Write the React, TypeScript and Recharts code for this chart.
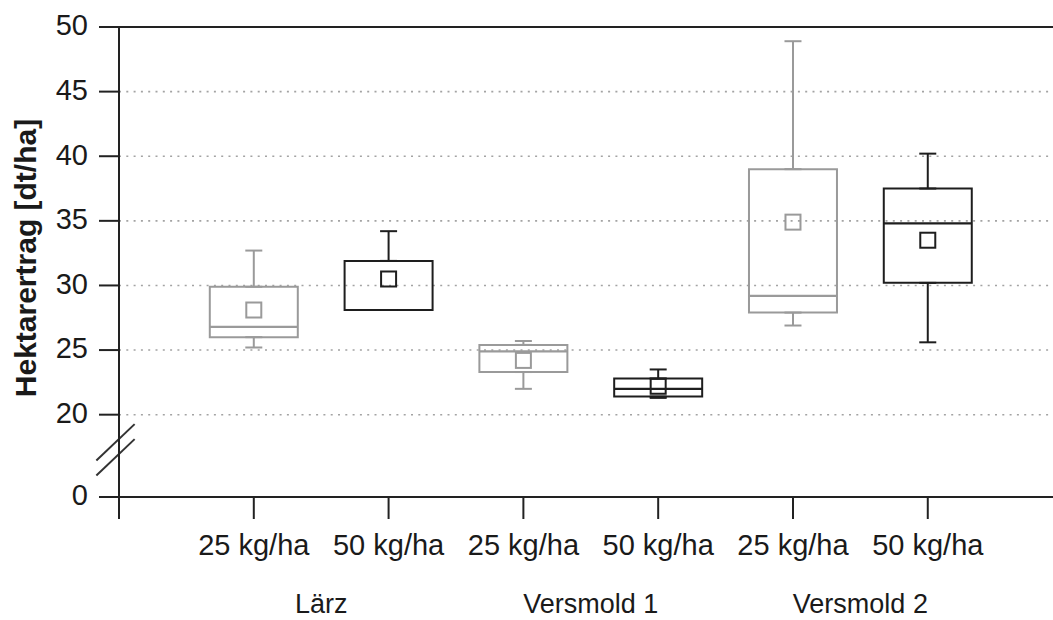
import React from "react";
import {
  ComposedChart,
  XAxis,
  YAxis,
  CartesianGrid,
  Scatter,
  ErrorBar,
  ReferenceArea,
  ReferenceLine,
} from "recharts";

// Sites and nitrogen doses (each site has one box per dose)
const sites = ["Lärz", "Versmold 1", "Versmold 2"];
const doses = ["25 kg/ha", "50 kg/ha"];

// Box statistics in dt/ha, order: Lärz 25, Lärz 50, Versmold 1 25, Versmold 1 50, Versmold 2 25, Versmold 2 50
const whiskerLow = [25.2, 28.1, 22.0, 21.3, 26.9, 25.6];
const quartile1 = [26.0, 28.1, 23.3, 21.4, 27.9, 30.2];
const median = [26.8, 28.1, 24.9, 22.0, 29.2, 34.8];
const quartile3 = [29.9, 31.9, 25.4, 22.8, 39.0, 37.5];
const whiskerHigh = [32.7, 34.2, 25.7, 23.5, 48.9, 40.2];
const mean = [28.1, 30.5, 24.2, 22.2, 34.9, 33.5];

// Y axis labels
const yTickValues = [0, 20, 25, 30, 35, 40, 45, 50];

// Broken y axis: values from 20 up are drawn linearly, 0..20 is squeezed
const BREAK_AT = 20;
const ZERO_AT = 13.63;
const toAxis = (v: number) =>
  v >= BREAK_AT ? v : ZERO_AT + (v / BREAK_AT) * (BREAK_AT - ZERO_AT);
const fromAxis = (a: number) =>
  a >= BREAK_AT ? a : ((a - ZERO_AT) / (BREAK_AT - ZERO_AT)) * BREAK_AT;
const yTicks = yTickValues.map(toAxis);

const W = 1053;
const H = 620;
const X_MAX = 6.929;
const BOX_HALF = 0.3264;
const CAP_HALF = 8.5;
const doseColors = ["#9a9a9a", "#1e1e1e"];
const textColor = "#1a1a1a";
const axisColor = "#222222";
const FONT = "'Liberation Sans', Arial, sans-serif";

const boxes = sites.flatMap((site, s) =>
  doses.map((dose, d) => {
    const i = s * 2 + d;
    const lo = toAxis(whiskerLow[i]);
    const q1 = toAxis(quartile1[i]);
    const med = toAxis(median[i]);
    const q3 = toAxis(quartile3[i]);
    const hi = toAxis(whiskerHigh[i]);
    return {
      pos: i + 1,
      site,
      dose,
      doseIndex: d,
      lo,
      q1,
      med,
      q3,
      hi,
      mean: toAxis(mean[i]),
      upperErr: [0, hi - q3],
      lowerErr: [q1 - lo, 0],
    };
  })
);

const squareShape = (color: string) => (props: any) => {
  const { cx, cy } = props;
  if (cx == null || cy == null) return <g />;
  return (
    <rect
      x={cx - 7.5}
      y={cy - 7.5}
      width={15}
      height={15}
      fill="none"
      stroke={color}
      strokeWidth={2}
    />
  );
};

const hiddenPoint = () => <g />;

const renderYTitle = (props: any) => {
  const vb = props.viewBox || { x: 0, y: 27, width: 119, height: 470 };
  const cx = vb.x + 36;
  const cy = vb.y + vb.height / 2 - 4;
  return (
    <text
      transform={`translate(${cx},${cy}) rotate(-90)`}
      textAnchor="middle"
      fontFamily={FONT}
      fontWeight="bold"
      fontSize={30}
      fill={textColor}
    >
      Hektarertrag [dt/ha]
    </text>
  );
};

export default function App() {
  return (
    <div style={{ position: "absolute", left: 0, top: 0, width: W, height: H, background: "#fff" }}>
      <ComposedChart
        width={W}
        height={H}
        margin={{ top: 27, right: 0, bottom: 0, left: 0 }}
        data={boxes}
      >
        <CartesianGrid
          vertical={false}
          stroke="#a3a3a3"
          strokeWidth={1.6}
          strokeDasharray="2 5.3"
        />
        <XAxis
          type="number"
          dataKey="pos"
          domain={[0, X_MAX]}
          ticks={[0, 1, 2, 3, 4, 5, 6]}
          allowDataOverflow
          interval={0}
          tickFormatter={(v: number) => (v === 0 ? "" : doses[(v - 1) % 2])}
          height={73}
          tickSize={22}
          tickMargin={15}
          axisLine={{ stroke: axisColor, strokeWidth: 2 }}
          tickLine={{ stroke: axisColor, strokeWidth: 2 }}
          tick={{ fill: textColor, fontSize: 29, fontFamily: FONT }}
        />
        <XAxis
          xAxisId="site"
          type="number"
          dataKey="pos"
          domain={[0, X_MAX]}
          ticks={[1.5, 3.5, 5.5]}
          allowDataOverflow
          interval={0}
          tickFormatter={(v: number) => sites[Math.round((v - 1.5) / 2)]}
          height={50}
          tickSize={0}
          tickMargin={24}
          axisLine={false}
          tickLine={false}
          tick={{ fill: textColor, fontSize: 27, fontFamily: FONT }}
        />
        <YAxis
          type="number"
          domain={[ZERO_AT, 50]}
          ticks={yTicks}
          allowDataOverflow
          interval={0}
          width={119}
          tickSize={20}
          tickMargin={11}
          tickFormatter={(v: number) => String(Math.round(fromAxis(v)))}
          axisLine={{ stroke: axisColor, strokeWidth: 2 }}
          tickLine={{ stroke: axisColor, strokeWidth: 2 }}
          tick={{ fill: textColor, fontSize: 29, fontFamily: FONT, dy: -2 }}
          label={renderYTitle}
        />

        {/* top frame line */}
        <ReferenceLine y={50} stroke={axisColor} strokeWidth={2} ifOverflow="visible" />

        {/* axis break marks */}
        <ReferenceLine
          segment={[{ x: -0.168, y: 16.46 }, { x: 0.116, y: 19.27 }]}
          stroke="#333"
          strokeWidth={2}
          ifOverflow="visible"
        />
        <ReferenceLine
          segment={[{ x: -0.168, y: 15.3 }, { x: 0.116, y: 18.11 }]}
          stroke="#333"
          strokeWidth={2}
          ifOverflow="visible"
        />

        {/* boxes: interquartile range */}
        {boxes.map((b) => (
          <ReferenceArea
            key={`box-${b.pos}`}
            x1={b.pos - BOX_HALF}
            x2={b.pos + BOX_HALF}
            y1={b.q1}
            y2={b.q3}
            fill="none"
            fillOpacity={0}
            stroke={doseColors[b.doseIndex]}
            strokeWidth={2}
            strokeOpacity={1}
            ifOverflow="visible"
          />
        ))}

        {/* medians */}
        {boxes.map((b) => (
          <ReferenceLine
            key={`med-${b.pos}`}
            segment={[
              { x: b.pos - BOX_HALF, y: b.med },
              { x: b.pos + BOX_HALF, y: b.med },
            ]}
            stroke={doseColors[b.doseIndex]}
            strokeWidth={2.2}
            ifOverflow="visible"
          />
        ))}

        {/* whiskers and means per dose */}
        {doses.map((dose, d) => {
          const pts = boxes.filter((b) => b.doseIndex === d);
          const color = doseColors[d];
          return [
            <Scatter
              key={`upper-${d}`}
              name={`${dose} upper`}
              data={pts}
              dataKey="q3"
              shape={hiddenPoint}
              isAnimationActive={false}
            >
              <ErrorBar
                dataKey="upperErr"
                direction="y"
                width={CAP_HALF}
                stroke={color}
                strokeWidth={2}
                isAnimationActive={false}
              />
            </Scatter>,
            <Scatter
              key={`lower-${d}`}
              name={`${dose} lower`}
              data={pts}
              dataKey="q1"
              shape={hiddenPoint}
              isAnimationActive={false}
            >
              <ErrorBar
                dataKey="lowerErr"
                direction="y"
                width={CAP_HALF}
                stroke={color}
                strokeWidth={2}
                isAnimationActive={false}
              />
            </Scatter>,
            <Scatter
              key={`mean-${d}`}
              name={`${dose} mean`}
              data={pts}
              dataKey="mean"
              shape={squareShape(color)}
              isAnimationActive={false}
            />,
          ];
        })}
      </ComposedChart>
    </div>
  );
}
